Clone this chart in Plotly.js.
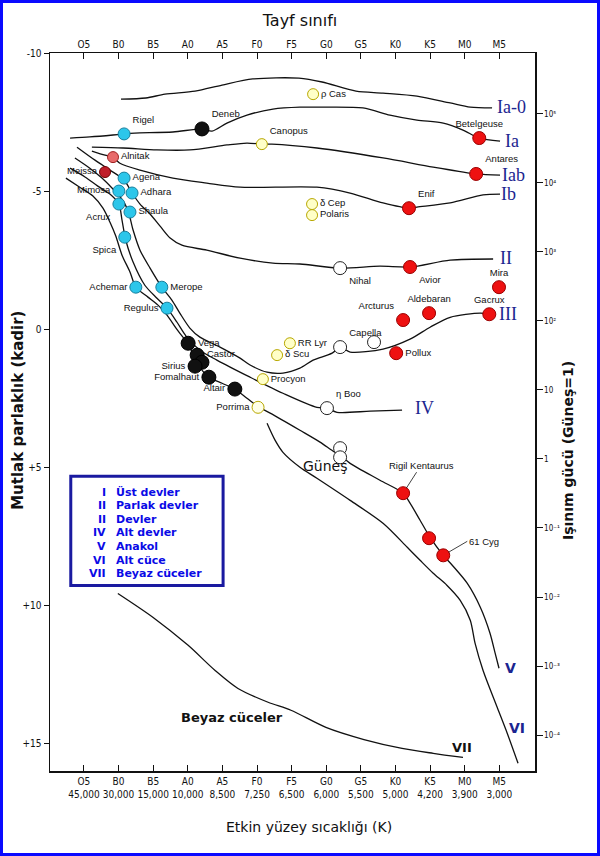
<!DOCTYPE html>
<html>
<head>
<meta charset="utf-8">
<script src="https://cdn.plot.ly/plotly-3.0.1.min.js"></script>
<style>
  body { margin: 0; background: #fff; }
  #plotDiv { width: 600px; height: 856px; }
  #frame { position: absolute; left: 0; top: 0; width: 600px; height: 856px; box-sizing: border-box;
           border: 3px solid #0a0aff; pointer-events: none; }
</style>
</head>
<body>
<div id="plotDiv"></div>
<div id="frame"></div>
<script>
// spectral classes (x = 0 for O5 ... 12 for M5) and temperatures
var classes = ['O5','B0','B5','A0','A5','F0','F5','G0','G5','K0','K5','M0','M5'];
var temps = ['45,000','30,000','15,000','10,000','8,500','7,250','6,500','6,000','5,500','5,000','4,200','3,900','3,000'];
var magTicks = [-10, -5, 0, 5, 10, 15];
var magText = ['-10', '-5', '0', '+5', '+10', '+15'];
var lumExp = [5, 4, 3, 2, 1, 0, -1, -2, -3, -4];
var lumText = ['10⁵','10⁴','10³','10²','10','1','10⁻¹','10⁻²','10⁻³','10⁻⁴'];
var sunMag = 4.7;

// luminosity class curves (spectral index, absolute magnitude)
var ia0X = [1.07,1.79,2.34,3.21,3.99,4.88,6.21,6.88,7.86,8.64,9.62,10.58,11.16,11.79];
var ia0Y = [-8.33,-8.37,-8.51,-8.62,-8.84,-9.06,-9.09,-8.95,-8.62,-8.55,-8.44,-8.19,-8.04,-8.01];
var iaX = [-0.40,0.17,0.84,1.16,1.47,2.57,3.41,3.70,4.13,4.71,5.46,6.24,6.73,8.06,8.84,9.62,10.38,10.95,11.42,12.02];
var iaY = [-6.92,-6.96,-7.03,-7.07,-7.10,-7.14,-7.25,-7.17,-7.46,-7.75,-7.97,-8.04,-8.04,-8.01,-7.75,-7.57,-7.46,-7.21,-6.92,-6.81];
var iabX = [0.23,1.13,2.11,3.06,4.13,4.71,5.14,5.43,6.73,8.64,10.09,11.33,12.02];
var iabY = [-6.59,-6.56,-6.49,-6.49,-6.67,-6.74,-6.70,-6.70,-6.56,-6.20,-5.87,-5.62,-5.58];
var ibX = [0.23,0.61,0.84,1.04,1.62,2.57,3.55,4.51,6.73,7.69,8.64,9.39,9.62,10.58,11.53,12.02];
var ibY = [-6.45,-6.30,-6.23,-6.01,-5.76,-5.47,-5.29,-5.14,-5.14,-4.93,-4.57,-4.38,-4.42,-4.57,-4.86,-4.89];
var iiX = [-0.20,0.32,0.75,1.16,1.39,1.62,1.91,2.20,2.49,2.83,3.55,4.51,5.46,6.24,7.40,8.55,9.42,10.58,11.82];
var iiY = [-6.59,-6.12,-5.76,-5.40,-4.93,-4.53,-4.17,-3.73,-3.30,-3.04,-2.86,-2.57,-2.39,-2.36,-2.21,-2.28,-2.25,-2.50,-2.54];
var iiiX = [-0.26,0.17,0.52,0.81,1.07,1.27,1.42,1.62,1.91,2.25,2.54,2.77,3.06,3.35,3.93,4.51,4.80,5.29,5.75,6.24,6.62,7.17,7.40,7.69,8.64,9.42,10.00,10.58,11.45,11.71];
var iiiY = [-6.20,-5.83,-5.47,-5.11,-4.75,-4.31,-3.59,-2.86,-2.21,-1.52,-1.05,-0.58,-0.04,0.29,0.65,1.05,1.30,1.56,1.59,1.41,1.12,0.87,0.65,0.83,0.72,0.36,-0.07,-0.43,-0.58,-0.54];
var ivX = [-0.40,0.03,0.40,0.75,1.01,1.10,1.21,1.42,1.76,2.11,2.40,2.69,2.95,3.35,3.84,4.80,5.75,6.73,7.02,7.31,8.27,9.19];
var ivY = [-5.83,-5.51,-5.18,-4.89,-4.53,-3.95,-3.22,-2.43,-1.59,-1.12,-0.76,-0.25,0.25,0.76,1.12,1.74,2.32,2.83,2.86,3.01,2.97,2.93];
var vX = [-0.52,-0.12,0.26,0.55,0.75,0.92,1.10,1.33,1.50,1.85,2.14,2.40,2.66,2.86,3.01,3.12,3.24,3.61,3.99,4.36,4.71,5.06,5.38,6.24,6.82,7.20,7.40,7.69,8.55,9.22,9.42,9.71,10.00,10.38,10.64,11.07,11.45,11.73,11.88,11.99];
var vY = [-5.47,-5.14,-4.82,-4.38,-3.88,-3.37,-2.68,-2.07,-1.52,-1.16,-0.87,-0.51,-0.04,0.29,0.51,0.83,1.20,1.74,1.96,2.17,2.50,2.83,3.04,3.66,4.09,4.42,4.57,4.86,5.47,5.94,6.30,6.92,7.54,8.19,8.55,9.20,10.07,11.01,11.74,12.28];
var viX = [5.29,5.52,5.75,6.24,6.73,7.69,8.64,9.34,9.71,10.09,10.49,10.87,11.16,11.30,11.53,11.94,12.23,12.54];
var viY = [3.41,4.02,4.46,5.00,5.40,6.20,7.03,7.90,8.37,8.84,9.28,9.82,10.54,11.38,12.36,13.70,14.64,15.72];
var viiX = [0.98,1.99,3.01,3.79,4.45,5.32,5.98,6.99,8.09,9.19,10.09,10.95];
var viiY = [9.57,10.43,11.45,12.36,13.01,13.51,13.80,14.42,14.86,15.18,15.36,15.51];

// stars
var starName = ['ρ Cas','Rigel','Deneb','Canopus','Betelgeuse','Antares','Alnitak','Meissa','Agena','Mimosa',
  'Adhara','Acrux','Shaula','Spica','Achemar','Merope','Regulus','Vega','Castor','','Sirius','Fomalhaut','Altair',
  'Porrima','Procyon','RR Lyr','δ Scu','Capella','','Arcturus','Aldebaran','Gacrux','Mira','Pollux','η Boo',
  'δ Cep','Polaris','Nihal','Avior','Enif','','','','',''];
var starX = [6.62,1.16,3.41,5.14,11.42,11.33,0.84,0.61,1.16,1.01,
  1.39,1.01,1.33,1.18,1.50,2.25,2.40,3.01,3.27,3.41,3.21,3.61,4.36,
  5.03,5.17,5.95,5.58,7.40,8.38,9.22,9.97,11.71,11.99,9.02,7.02,
  6.59,6.59,7.40,9.42,9.39,7.40,7.40,9.22,9.97,10.38];
var starY = [-8.51,-7.07,-7.25,-6.70,-6.92,-5.62,-6.23,-5.69,-5.47,-5.00,
  -4.93,-4.53,-4.24,-3.33,-1.52,-1.52,-0.76,0.51,0.94,1.20,1.34,1.74,2.17,
  2.83,1.81,0.51,0.94,0.65,0.47,-0.33,-0.58,-0.54,-1.52,0.87,2.86,
  -4.53,-4.13,-2.21,-2.25,-4.38,4.31,4.64,5.94,7.57,8.19];
var starKind = ['yellow','cyan','black','yellow','red','red','pink','darkred','cyan','cyan',
  'cyan','cyan','cyan','cyan','cyan','cyan','cyan','black','black','black','black','black','black',
  'pale','yellow','yellow','yellow','white','white','red','red','red','red','red','white',
  'yellow','yellow','white','red','red','white','white','red','red','red'];
var starPos = ['middle right','top right','top right','top right','top center','top right','middle right','middle left','middle right','middle left',
  'middle right','bottom left','middle right','bottom left','middle left','middle right','middle left','middle right','middle right','middle right','middle left','middle left','middle left',
  'middle left','middle right','middle right','middle right','top right','top right','top left','top center','top center','top center','middle right','top right',
  'middle right','middle right','bottom right','bottom right','top right','middle right','middle right','middle right','middle right','middle right'];

var legendRoman = ['I','II','II','IV','V','VI','VII'];
var legendText = ['Üst devler','Parlak devler','Devler','Alt devler','Anakol','Alt cüce','Beyaz cüceler'];

var kindStyle = {
  cyan:    {color: '#2cc6ea', line: '#17809e', size: 12},
  red:     {color: '#ee1111', line: '#9a0000', size: 13},
  black:   {color: '#111111', line: '#000000', size: 14},
  yellow:  {color: '#ffffc8', line: '#b8a800', size: 11},
  pale:    {color: '#ffffe8', line: '#b8a800', size: 12},
  white:   {color: '#ffffff', line: '#222222', size: 13},
  pink:    {color: '#e86a6a', line: '#a02020', size: 11},
  darkred: {color: '#c01e2a', line: '#700000', size: 11}
};

var curves = [[ia0X, ia0Y], [iaX, iaY], [iabX, iabY], [ibX, ibY], [iiX, iiY], [iiiX, iiiY],
              [ivX, ivY], [vX, vY], [viX, viY], [viiX, viiY]];

var data = [];
curves.forEach(function(c) {
  data.push({
    type: 'scatter', mode: 'lines', x: c[0], y: c[1],
    line: {color: '#111', width: 1.3, shape: 'spline', smoothing: 0.8},
    hoverinfo: 'skip', showlegend: false
  });
});

Object.keys(kindStyle).forEach(function(k) {
  var xs = [], ys = [], ts = [], ps = [];
  for (var i = 0; i < starName.length; i++) {
    if (starKind[i] !== k) continue;
    xs.push(starX[i]); ys.push(starY[i]); ts.push(starName[i]); ps.push(starPos[i]);
  }
  var s = kindStyle[k];
  data.push({
    type: 'scatter', mode: 'markers+text', x: xs, y: ys, text: ts, textposition: ps,
    textfont: {family: 'Liberation Sans, Arial, sans-serif', size: 9.5, color: '#111'},
    marker: {color: s.color, size: s.size, line: {color: s.line, width: 1}},
    cliponaxis: false, showlegend: false
  });
});

// dummy trace so the top / right axes are drawn
data.push({type: 'scatter', x: [null], y: [null], xaxis: 'x2', yaxis: 'y2', showlegend: false, hoverinfo: 'skip'});

var tickFont = {family: 'Liberation Sans Narrow, DejaVu Sans Condensed, Arial Narrow, sans-serif', size: 10, color: '#111'};
var xRange = [-0.98, 13.03];
var yRange = [16, -10];

var annotations = [
  {xref: 'paper', yref: 'paper', x: -0.066, y: 0.503, xanchor: 'center', yanchor: 'middle',
   text: 'Mutlak parlaklık (kadir)', textangle: -90, showarrow: false,
   font: {family: 'DejaVu Sans, sans-serif', size: 15, color: '#111', weight: 'bold'}},
  {xref: 'paper', yref: 'paper', x: 1.068, y: 0.447, xanchor: 'center', yanchor: 'middle',
   text: 'Işınım gücü (Güneş=1)', textangle: -90, showarrow: false,
   font: {family: 'DejaVu Sans, sans-serif', size: 14, color: '#111', weight: 'bold'}},
  {xref: 'paper', yref: 'paper', x: 0.535, y: -0.078, xanchor: 'center', yanchor: 'middle',
   text: 'Etkin yüzey sıcaklığı (K)', showarrow: false,
   font: {family: 'DejaVu Sans, sans-serif', size: 14, color: '#111'}}
];

var romanFont = {family: 'Liberation Serif, DejaVu Serif, serif', size: 18, color: '#1b2590'};
[['Ia-0', 11.88, -8.04], ['Ia', 12.11, -6.81], ['Iab', 12.02, -5.60], ['Ib', 11.99, -4.89],
 ['II', 11.97, -2.57], ['III', 11.94, -0.54], ['IV', 9.51, 2.86]].forEach(function(r) {
  annotations.push({x: r[1], y: r[2], text: r[0], xanchor: 'left', showarrow: false, font: romanFont});
});
annotations.push({x: 12.11, y: 12.28, text: 'V', xanchor: 'left', showarrow: false,
  font: {family: 'DejaVu Sans, sans-serif', size: 14, color: '#1b2590', weight: 'bold'}});
annotations.push({x: 12.23, y: 14.46, text: 'VI', xanchor: 'left', showarrow: false,
  font: {family: 'DejaVu Sans, sans-serif', size: 14, color: '#1b2590', weight: 'bold'}});
annotations.push({x: 10.58, y: 15.14, text: 'VII', xanchor: 'left', showarrow: false,
  font: {family: 'DejaVu Sans, sans-serif', size: 13, color: '#111', weight: 'bold'}});
annotations.push({x: 4.28, y: 14.06, text: 'Beyaz cüceler', showarrow: false,
  font: {family: 'DejaVu Sans, sans-serif', size: 13, color: '#111', weight: 'bold'}});
annotations.push({x: 6.97, y: 4.96, text: 'Güneş', showarrow: false,
  font: {family: 'DejaVu Sans, sans-serif', size: 14, color: '#111'}});
annotations.push({x: 9.22, y: 5.94, ax: 18, ay: -28, text: 'Rigil Kentaurus', showarrow: true, arrowhead: 0,
  arrowwidth: 0.8, arrowcolor: '#111', standoff: 6,
  font: {family: 'Liberation Sans, Arial, sans-serif', size: 9.5, color: '#111'}});
annotations.push({x: 10.38, y: 8.19, ax: 24, ay: -14, text: '61 Cyg', xanchor: 'left', showarrow: true, arrowhead: 0,
  arrowwidth: 0.8, arrowcolor: '#111', standoff: 6,
  font: {family: 'Liberation Sans, Arial, sans-serif', size: 9.5, color: '#111'}});

var legFont = {family: 'DejaVu Sans, sans-serif', size: 11, color: '#0a0ae6', weight: 'bold'};
legendRoman.forEach(function(r, i) {
  var y = 5.91 + i * 0.49;
  annotations.push({x: 0.66, y: y, text: r, xanchor: 'right', showarrow: false, borderpad: 0, font: legFont});
  annotations.push({x: 0.90, y: y, text: legendText[i], xanchor: 'left', showarrow: false, borderpad: 0, font: legFont});
});

var layout = {
  width: 600, height: 856,
  margin: {l: 50, r: 65, t: 53, b: 85},
  paper_bgcolor: '#fff', plot_bgcolor: '#fff',
  title: {text: 'Tayf sınıfı', x: 0.5, xref: 'container', y: 1 - 20 / 856, yref: 'container', yanchor: 'middle',
          font: {family: 'DejaVu Sans, sans-serif', size: 16, color: '#111'}},
  xaxis: {range: xRange, tickvals: classes.map(function(c, i) { return i; }),
          ticktext: classes.map(function(c, i) { return c + '<br>' + temps[i]; }),
          ticks: 'inside', ticklen: 6, tickcolor: '#111', showline: true, linecolor: '#111', linewidth: 1.5,
          showgrid: false, zeroline: false, tickfont: tickFont, fixedrange: true},
  xaxis2: {range: xRange, overlaying: 'x', side: 'top', anchor: 'y2', tickvals: classes.map(function(c, i) { return i; }),
           ticktext: classes, ticks: 'inside', ticklen: 6, tickcolor: '#111', showline: true, linecolor: '#111',
           linewidth: 1.5, showgrid: false, zeroline: false, tickfont: tickFont},
  yaxis: {range: yRange, tickvals: magTicks, ticktext: magText, ticks: 'outside', ticklen: 5, tickcolor: '#111',
          showline: true, linecolor: '#111', linewidth: 1.5, showgrid: false, zeroline: false, tickfont: tickFont},
  yaxis2: {range: yRange, overlaying: 'y', side: 'right', anchor: 'x2',
           tickvals: lumExp.map(function(k) { return sunMag - 2.5 * k; }), ticktext: lumText,
           ticks: 'outside', ticklen: 6, tickcolor: '#111', showline: true, linecolor: '#111', linewidth: 1.5,
           showgrid: false, zeroline: false, tickfont: {family: tickFont.family, size: 8, color: '#111'}},
  shapes: [{type: 'rect', x0: -0.38, x1: 4.02, y0: 5.33, y1: 9.28, line: {color: '#1a1aa0', width: 3}}],
  annotations: annotations,
  showlegend: false
};

Plotly.newPlot('plotDiv', data, layout, {displayModeBar: false, staticPlot: true});
</script>
</body>
</html>
